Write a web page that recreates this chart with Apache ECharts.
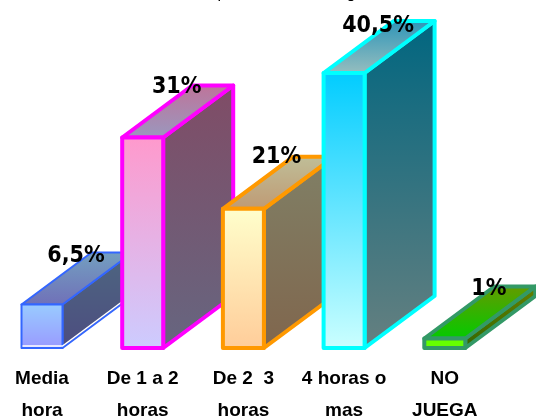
<!DOCTYPE html>
<html>
<head>
<meta charset="utf-8">
<style>
html,body{margin:0;padding:0;background:#fff}
#c{width:536px;height:419px}
</style>
<script src="https://cdn.jsdelivr.net/npm/echarts@6/dist/echarts.min.js"></script>
</head>
<body>
<div id="c"></div>
<script>
var categories = ['Media\nhora', 'De 1 a 2\nhoras', 'De 2  3\nhoras', '4 horas o\nmas', 'NO\nJUEGA'];
var barHeights = [6.4, 31, 20.5, 40.5, 1.4];
var valueLabels = ['6,5%', '31%', '21%', '40,5%', '1%'];
var titleFragments = ['p', 'g'];

var borderColors = ['#3366ff', '#ff00ff', '#ff9900', '#00ffff', '#339966'];
var borderWidths = [2, 4, 4, 4, 4];
var innerGaps = [1.5, 0, 0, 0, 0];
var frontColors = [['#99ccff', '#9999ff'], ['#ff99cc', '#ccccff'], ['#ffffcc', '#ffcc99'], ['#00ccff', '#ccffff'], ['#66ff00', '#66ff00']];
var sideColors = [['#4d6680', '#4d4d80'], ['#804c66', '#666680'], ['#808066', '#80664d'], ['#006680', '#668080'], ['#668000', '#336600']];
var topColors = [['#73a0c0', '#7070b8'], ['#bf7399', '#9999bf'], ['#bfbf99', '#bf9973'], ['#2b94b8', '#99bfbf'], ['#669900', '#00cc00']];
var labelShiftX = [34, 34, 33, 34, 44];
var labelShiftY = [-49, -50, -52, -47, -49];

var DEPTH_X = 70, DEPTH_Y = 52, FRONT_W = 41;

function grad(pair) {
  return {type: 'linear', x: 0, y: 0, x2: 0, y2: 1, colorStops: [
    {offset: 0, color: pair[0]}, {offset: 1, color: pair[1]}]};
}

function renderBar(params, api) {
  var i = params.dataIndex;
  var top = api.coord([i, api.value(1)]);
  var base = api.coord([i, 0]);
  var l = top[0] - FRONT_W / 2, r = top[0] + FRONT_W / 2;
  var t = top[1], b = base[1];
  var line = {stroke: borderColors[i], lineWidth: borderWidths[i], lineJoin: 'round'};
  function sty(pair) { return Object.assign({fill: grad(pair)}, line); }
  var children = [
    {type: 'polygon', shape: {points: [[r, t], [r + DEPTH_X, t - DEPTH_Y], [r + DEPTH_X, b - DEPTH_Y], [r, b]]}, style: sty(sideColors[i])},
    {type: 'polygon', shape: {points: [[l, t], [l + DEPTH_X, t - DEPTH_Y], [r + DEPTH_X, t - DEPTH_Y], [r, t]]}, style: sty(topColors[i])},
    {type: 'rect', shape: {x: l, y: t, width: FRONT_W, height: b - t}, style: sty(frontColors[i])},
    {type: 'text', z2: 100, x: top[0] + labelShiftX[i], y: t + labelShiftY[i], style: {
      text: valueLabels[i], fill: '#000', align: 'center', verticalAlign: 'middle',
      font: 'bold 23px "DejaVu Sans Condensed"'}}
  ];
  if (innerGaps[i]) {
    children.push({type: 'polyline', shape: {points: [[l + 1, b - 2], [r, b - 2], [r + DEPTH_X, b - DEPTH_Y - 2]]},
      style: {fill: 'none', stroke: '#fff', lineWidth: innerGaps[i]}});
  }
  return {type: 'group', children: children};
}

var chart = echarts.init(document.getElementById('c'), null, {renderer: 'canvas', width: 536, height: 419});
chart.setOption({
  backgroundColor: '#fff',
  animation: false,
  graphic: titleFragments.map(function (s, i) {
    return {type: 'text', x: [222, 351][i], y: 2, style: {
      text: s, fill: '#000', align: 'center', verticalAlign: 'bottom', font: '16px "Liberation Sans"'}};
  }),
  grid: {left: -8.35, width: 503.5, top: 42.45, height: 305.55, outerBoundsMode: 'none'},
  xAxis: {
    type: 'category', data: categories,
    axisLine: {show: false}, axisTick: {show: false},
    axisLabel: {interval: 0, margin: 15, lineHeight: 32, fontFamily: 'Liberation Sans', fontWeight: 'bold', fontSize: 19, color: '#000', hideOverlap: false}
  },
  yAxis: {type: 'value', min: 0, max: 45, show: false},
  series: [{type: 'custom', renderItem: renderBar, clip: false,
    data: barHeights.map(function (v, i) { return [i, v]; }),
    encode: {x: 0, y: 1}}]
});
</script>
</body>
</html>
